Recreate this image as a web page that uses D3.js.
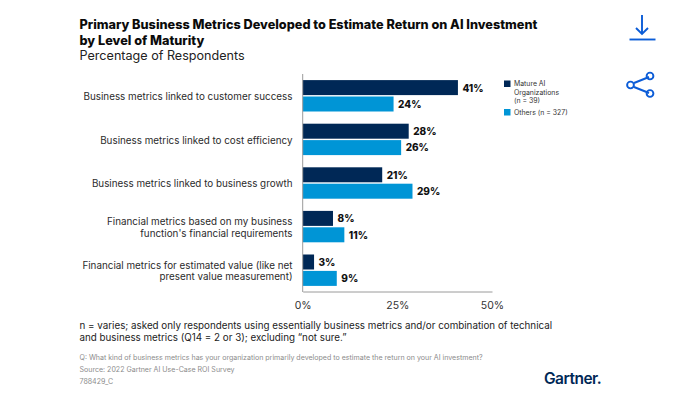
<!DOCTYPE html>
<head>
    <meta charset="utf-8"/>
    <script src="https://d3js.org/d3.v7.min.js"></script>
    <style>
        body { margin: 0; background: #fff; }
        svg { display: block; }
        text { font-family: Inter, "Noto Sans", sans-serif; }
    </style>
</head>
<body>
<script>
    var categories = [
        ["Business metrics linked to customer success"],
        ["Business metrics linked to cost efficiency"],
        ["Business metrics linked to business growth"],
        ["Financial metrics based on my business", "function's financial requirements"],
        ["Financial metrics for estimated value (like net", "present value measurement)"]
    ];
    var matureValues = [41, 28, 21, 8, 3];
    var otherValues = [24, 26, 29, 11, 9];
    var xTicks = [0, 25, 50];
    var titleLines = ["Primary Business Metrics Developed to Estimate Return on AI Investment", "by Level of Maturity"];
    var subtitle = "Percentage of Respondents";
    var footnoteLines = [
        "n = varies; asked only respondents using essentially business metrics and/or combination of technical",
        "and business metrics (Q14 = 2 or 3); excluding \u201cnot sure.\u201d"
    ];
    var sourceLines = [
        "Q: What kind of business metrics has your organization primarily developed to estimate the return on your AI investment?",
        "Source: 2022 Gartner AI Use-Case ROI Survey",
        "788429_C"
    ];

    var width = 673, height = 411;
    var dark = "#002856", light = "#0095d6", blue = "#0b5cd7";

    var svg = d3.select("body").append("svg")
        .attr("width", width)
        .attr("height", height);

    var x = d3.scaleLinear().domain([0, 50]).range([302.7, 492]);
    var y = d3.scaleBand().domain(d3.range(categories.length)).range([74, 292]);
    var barH = 15;

    // titres
    svg.append("g").selectAll("text").data(titleLines).join("text")
        .attr("x", 79.5).attr("y", function (d, i) { return 29 + i * 15.8; })
        .attr("font-size", 12.7).attr("font-weight", 800).attr("fill", "#0b0b0b")
        .text(function (d) { return d; });
    svg.append("text").attr("x", 79.5).attr("y", 60)
        .attr("font-size", 12.6).attr("fill", "#222").text(subtitle);

    // barres
    var groups = svg.append("g").selectAll("g").data(categories).join("g")
        .attr("transform", function (d, i) { return "translate(0," + (y(i) + y.bandwidth() / 2) + ")"; });

    groups.append("rect")
        .attr("x", x(0)).attr("y", -barH - 0.7).attr("height", barH)
        .attr("width", function (d, i) { return x(matureValues[i]) - x(0); })
        .attr("fill", dark);
    groups.append("rect")
        .attr("x", x(0)).attr("y", 0.7).attr("height", barH)
        .attr("width", function (d, i) { return x(otherValues[i]) - x(0); })
        .attr("fill", light);

    groups.append("text")
        .attr("x", function (d, i) { return x(matureValues[i]) + 4.5; })
        .attr("y", -4.2).attr("font-size", 10).attr("font-weight", 800).attr("fill", "#111")
        .text(function (d, i) { return matureValues[i] + "%"; });
    groups.append("text")
        .attr("x", function (d, i) { return x(otherValues[i]) + 4.5; })
        .attr("y", 12).attr("font-size", 10).attr("font-weight", 800).attr("fill", "#111")
        .text(function (d, i) { return otherValues[i] + "%"; });

    // libelles des categories
    groups.append("text")
        .attr("text-anchor", "end").attr("font-size", 9.85).attr("fill", "#2b2b2b")
        .each(function (d) {
            var t = d3.select(this);
            d.forEach(function (line, j) {
                t.append("tspan").attr("x", 292.5)
                    .attr("y", 4.3 + (j - (d.length - 1) / 2) * 12)
                    .text(line);
            });
        });

    // axes
    var xAxis = d3.axisBottom(x).tickValues(xTicks).tickSize(0).tickPadding(10)
        .tickFormat(function (d) { return d + "%"; });
    var gx = svg.append("g").attr("transform", "translate(0,291.5)").call(xAxis);
    gx.select(".domain").attr("stroke", "#9a9a9a").attr("stroke-width", 1);
    gx.selectAll("text").attr("font-size", 10.5).attr("fill", "#333")
        .style("font-family", "Inter, 'Noto Sans', sans-serif");

    svg.append("line").attr("x1", x(0)).attr("x2", x(0)).attr("y1", 74).attr("y2", 292)
        .attr("stroke", "#9a9a9a").attr("stroke-width", 1);

    // legende
    var legend = svg.append("g");
    legend.append("rect").attr("x", 504).attr("y", 80.5).attr("width", 6.5).attr("height", 6.5).attr("fill", dark);
    legend.append("rect").attr("x", 504).attr("y", 109).attr("width", 6.5).attr("height", 6.5).attr("fill", light);
    legend.selectAll("text")
        .data([["Mature AI", 86], ["Organizations", 94.7], ["(n = 39)", 103.2], ["Others (n = 327)", 114.7]])
        .join("text")
        .attr("x", 514).attr("y", function (d) { return d[1]; })
        .attr("font-size", 6.9).attr("fill", "#333")
        .text(function (d) { return d[0]; });

    // notes
    svg.append("g").selectAll("text").data(footnoteLines).join("text")
        .attr("x", 79.5).attr("y", function (d, i) { return 328.5 + i * 12; })
        .attr("font-size", 9.8).attr("fill", "#222")
        .text(function (d) { return d; });
    svg.append("g").selectAll("text").data(sourceLines).join("text")
        .attr("x", 79.5).attr("y", function (d, i) { return 360 + i * 12.2; })
        .attr("font-size", 7.05).attr("fill", "#8c8c8c")
        .text(function (d) { return d; });

    // logo
    svg.append("text").attr("x", 544).attr("y", 384)
        .attr("font-size", 15.5).attr("font-weight", 600).attr("letter-spacing", -0.5).attr("fill", "#002856")
        .text("Gartner.");

    // icones
    var icons = svg.append("g").attr("fill", "none").attr("stroke", blue).attr("stroke-width", 1.9);
    icons.append("path").attr("d", "M642 15V34M636 28L642 34L648 28");
    icons.append("path").attr("d", "M629.5 39.5H655.5");
    icons.append("path").attr("d", "M634 83L649 77M634 87L649 93");
    icons.append("circle").attr("cx", 630.5).attr("cy", 85).attr("r", 3.4);
    icons.append("circle").attr("cx", 650).attr("cy", 76).attr("r", 3.4);
    icons.append("circle").attr("cx", 650).attr("cy", 93.5).attr("r", 3.4);
</script>
</body>
